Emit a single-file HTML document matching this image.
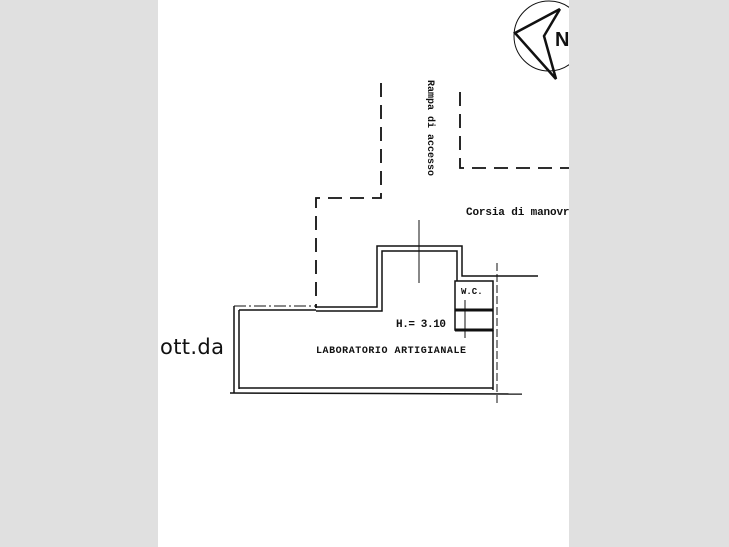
<!DOCTYPE html>
<html><head><style>
body{margin:0;width:729px;height:547px;background:#e0e0e0;overflow:hidden}
svg{position:absolute;left:0;top:0}
text{font-family:"Liberation Mono",monospace;font-weight:bold;fill:#111}
</style></head><body>
<svg width="729" height="547" viewBox="0 0 729 547">
<defs><clipPath id="c"><rect x="158" y="0" width="411" height="547"/></clipPath></defs>
<rect x="158" y="0" width="411" height="547" fill="#fff"/>
<g clip-path="url(#c)">
<g stroke="#111" fill="none">
<circle cx="549" cy="36" r="35" stroke-width="1"/>
<polyline points="560,9 515,33 556,79 544,36 560,9" stroke-width="2.5"/>
<g stroke-width="1.8" stroke-dasharray="14,8">
<polyline points="381,83 381,198 316,198 316,308"/>
<polyline points="460,92 460,168 570,168"/>
</g>
<line x1="234" y1="306" x2="316" y2="306" stroke-width="1" stroke-dasharray="12,3,2,3"/>
<g stroke-width="1.5">
<line x1="234" y1="306" x2="234" y2="393"/>
<line x1="239" y1="310" x2="239" y2="389"/>
<line x1="239" y1="310" x2="316" y2="310"/>
<polyline points="316,307 377,307 377,246 462,246 462,276 538,276"/>
<polyline points="316,311 382,311 382,251 457,251 457,281"/>
<rect x="455" y="281" width="38" height="49"/>
<line x1="493" y1="330" x2="493" y2="390"/>
<line x1="239" y1="388" x2="493" y2="388"/>
<line x1="230" y1="393" x2="522" y2="394"/>
<line x1="419" y1="220" x2="419" y2="283" stroke-width="1"/>
<line x1="497" y1="263" x2="497" y2="405" stroke-width="1" stroke-dasharray="8,3"/>
<line x1="465" y1="300" x2="465" y2="338" stroke-width="1"/>
</g>
<line x1="455" y1="310" x2="493" y2="310" stroke-width="3"/>
<line x1="455" y1="330" x2="493" y2="330" stroke-width="3"/>
</g>
<text x="555" y="46" style="font-family:'Liberation Sans',sans-serif;font-size:20px">N</text>
<text transform="translate(428,80) rotate(90)" font-size="10">Rampa di accesso</text>
<text x="466" y="215" font-size="11" textLength="110">Corsia di manovra</text>
<text x="461" y="294" font-size="9">W.C.</text>
<text x="396" y="327" font-size="11" textLength="50">H.= 3.10</text>
<text x="316" y="353" font-size="10" textLength="150">LABORATORIO  ARTIGIANALE</text>
<text x="160" y="354" style="font-family:'DejaVu Sans',sans-serif;font-size:21px;font-weight:normal" textLength="64">ott.da</text>
</g>
</svg>
</body></html>
